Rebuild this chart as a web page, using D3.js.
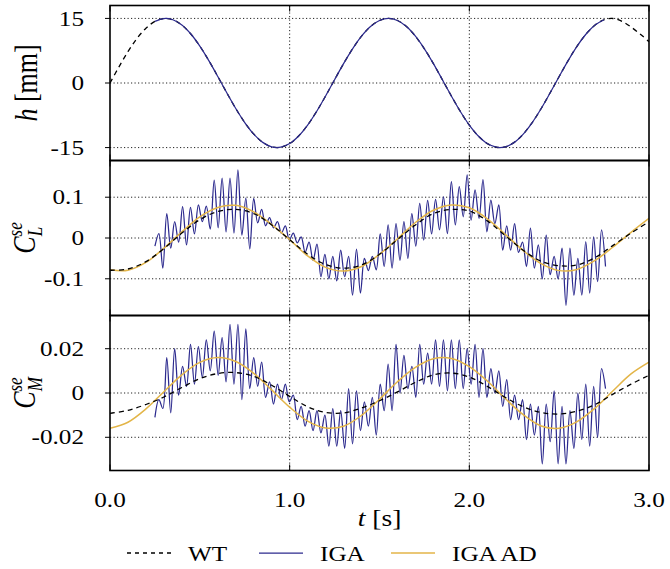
<!DOCTYPE html>
<html>
<head>
<meta charset="utf-8">
<script src="https://cdn.jsdelivr.net/npm/d3@7"></script>
<style>
  body { margin: 0; background: #fff; }
  svg { display: block; font-family: "Liberation Serif", "Times New Roman", serif; }
</style>
</head>
<body>
<svg id="chart" width="670" height="569"></svg>
<script>
// ---- data ----
// h [mm], WT sampled every 0.05 s from 0 to 3.0
const tH = d3.range(61).map(i => i * 0.05)
const hWT = [0, 3.76, 7.28, 10.34, 12.73, 14.31, 14.98, 14.69, 13.47, 11.38, 8.57, 5.21, 1.52, -2.27, -5.92, -9.18,
  -11.86, -13.79, -14.83, -14.92, -14.07, -12.31, -9.77, -6.61, -3.02, 0.76, 4.49, 7.93, 10.87, 13.11, 14.51, 15.0,
  14.51, 13.11, 10.87, 7.93, 4.49, 0.76, -3.02, -6.61, -9.77, -12.31, -14.07, -14.92, -14.83, -13.79, -11.86, -9.18,
  -5.92, -2.27, 1.52, 5.21, 8.57, 11.38, 13.47, 14.69, 14.98, 14.31, 13.0, 11.4, 9.6]
// h [mm], IGA sampled every 0.05 s from 0.25 to 2.75
const tIgaH = d3.range(51).map(i => 0.25 + i * 0.05)
const hIGA = [14.31, 14.98, 14.69, 13.47, 11.38, 8.57, 5.21, 1.52, -2.27, -5.92, -9.18, -11.86, -13.79, -14.83, -14.92,
  -14.07, -12.31, -9.77, -6.61, -3.02, 0.76, 4.49, 7.93, 10.87, 13.11, 14.51, 15.0, 14.51, 13.11, 10.87, 7.93, 4.49,
  0.76, -3.02, -6.61, -9.77, -12.31, -14.07, -14.92, -14.83, -13.79, -11.86, -9.18, -5.92, -2.27, 1.52, 5.21, 8.57,
  11.38, 13.47, 14.69]

// smooth curves sampled every 0.1 s from 0 to 3.0
const tSmooth = d3.range(31).map(i => i / 10)
const clWT = [-0.079, -0.076, -0.058, -0.026, 0.012, 0.045, 0.065, 0.070, 0.060, 0.032, -0.004, -0.040, -0.065, -0.074,
  -0.066, -0.040, -0.004, 0.032, 0.060, 0.070, 0.066, 0.042, 0.006, -0.030, -0.057, -0.068, -0.066, -0.048, -0.018, 0.012, 0.040]
const clAD = [-0.078, -0.079, -0.060, -0.025, 0.015, 0.052, 0.075, 0.080, 0.064, 0.033, -0.004, -0.044, -0.072, -0.081,
  -0.070, -0.040, -0.002, 0.038, 0.068, 0.081, 0.074, 0.047, 0.009, -0.031, -0.063, -0.080, -0.077, -0.055, -0.022, 0.014, 0.048]
const cmWT = [-0.0092, -0.0078, -0.0052, -0.0018, 0.0025, 0.0065, 0.0088, 0.0092, 0.0075, 0.0035, -0.0015, -0.0062, -0.0088,
  -0.0090, -0.0068, -0.0035, 0.0005, 0.0048, 0.0082, 0.0090, 0.0072, 0.0030, -0.0020, -0.0062, -0.0088, -0.0095, -0.0082,
  -0.0052, -0.0005, 0.0040, 0.0080]
const cmAD = [-0.0159, -0.0132, -0.0072, 0.0006, 0.0082, 0.0138, 0.0160, 0.0142, 0.0089, 0.0014, -0.0064, -0.0127, -0.0158,
  -0.0150, -0.0101, -0.0028, 0.0051, 0.0116, 0.0155, 0.0156, 0.0119, 0.0054, -0.0025, -0.0098, -0.0149, -0.0159, -0.0129,
  -0.0068, 0.0010, 0.0086, 0.0139]

// IGA force coefficients, peaks and troughs every 0.022 s from 0.25 s
const tIga = d3.range(115).map(i => 0.25 + i * 0.022)
const clIGA = [-0.020, 0.011, -0.074, 0.060, -0.025, 0.040, -0.010, 0.077, -0.017, 0.075, 0.010, 0.081, 0.040, 0.078,
  0.022, 0.142, 0.025, 0.147, 0.015, 0.147, 0.012, 0.167, 0.007, 0.098, -0.027, 0.097, 0.037, 0.070, 0.030, 0.050,
  0.025, 0.040, 0.012, 0.030, -0.005, 0.012, -0.012, 0.003, -0.035, -0.010, -0.055, -0.015, -0.095, -0.040, -0.100,
  -0.045, -0.105, -0.030, -0.095, -0.045, -0.140, -0.027, -0.135, -0.050, -0.080, -0.045, -0.078, 0.010, -0.070, 0.032,
  -0.074, 0.035, -0.055, 0.040, -0.050, 0.060, -0.020, 0.085, -0.005, 0.092, 0.010, 0.095, 0.020, 0.101, 0.011, 0.138,
  0.032, 0.126, 0.052, 0.155, 0.044, 0.118, 0.048, 0.143, 0.015, 0.093, 0.035, 0.081, -0.030, 0.030, -0.030, 0.035,
  -0.035, -0.010, -0.070, 0.024, -0.074, -0.017, -0.100, 0.007, -0.090, -0.045, -0.100, -0.025, -0.165, -0.025, -0.140,
  -0.050, -0.140, -0.009, -0.135, 0.003, -0.107, 0.020, -0.070]
const cmIGA = [-0.011, -0.003, -0.007, 0.016, -0.009, 0.020, -0.001, 0.012, 0.003, 0.022, 0.004, 0.021, 0.007, 0.024,
  0.010, 0.028, 0.008, 0.025, 0.005, 0.031, 0.004, 0.031, -0.003, 0.029, 0.002, 0.016, 0.003, 0.014, -0.002, 0.005,
  -0.005, 0.004, -0.003, 0.004, -0.004, -0.001, -0.012, -0.006, -0.015, -0.008, -0.017, -0.008, -0.018, -0.010, -0.024,
  -0.007, -0.024, -0.008, -0.025, 0.002, -0.023, 0.001, -0.017, -0.004, -0.015, -0.002, -0.019, 0.004, -0.008, 0.013,
  -0.008, 0.022, 0.000, 0.017, 0.002, 0.012, -0.002, 0.022, 0.004, 0.018, 0.004, 0.024, 0.003, 0.024, 0.001, 0.024,
  0.002, 0.024, 0.002, 0.020, 0.004, 0.022, -0.002, 0.020, -0.002, 0.011, 0.000, 0.010, -0.006, 0.006, -0.012, -0.001,
  -0.012, -0.003, -0.021, -0.005, -0.019, -0.006, -0.032, -0.005, -0.022, 0.001, -0.032, -0.006, -0.032, -0.008, -0.025,
  0.000, -0.021, 0.004, -0.024, 0.003, -0.020, 0.011, 0.002]

const xTicks = [0, 1, 2, 3]
const xTickLabels = ["0.0", "1.0", "2.0", "3.0"]
const hTicks = [15, 0, -15], hTickLabels = ["15", "0", "-15"]
const clTicks = [0.1, 0, -0.1], clTickLabels = ["0.1", "0", "-0.1"]
const cmTicks = [0.02, 0, -0.02], cmTickLabels = ["0.02", "0", "-0.02"]
const legendNames = ["WT", "IGA", "IGA AD"]

// ---- styles ----
const colWT = "#000", colIGA = "#2c2a8e", colAD = "#e3b548"
const styles = {
  WT: { stroke: colWT, width: 1.3, dash: "5,4" },
  IGA: { stroke: colIGA, width: 1.25, dash: null },
  AD: { stroke: colAD, width: 1.5, dash: null }
}

const zip = (ts, vs) => ts.map((t, i) => ({ t: t, v: vs[i] }))

const panels = [
  { domain: [-18, 18], ticks: hTicks, labels: hTickLabels, title: "h",
    series: [["WT", zip(tH, hWT)], ["IGA", zip(tIgaH, hIGA)]] },
  { domain: [-0.19, 0.19], ticks: clTicks, labels: clTickLabels, title: "L",
    series: [["IGA", zip(tIga, clIGA)], ["AD", zip(tSmooth, clAD)], ["WT", zip(tSmooth, clWT)]] },
  { domain: [-0.035, 0.035], ticks: cmTicks, labels: cmTickLabels, title: "M",
    series: [["IGA", zip(tIga, cmIGA)], ["AD", zip(tSmooth, cmAD)], ["WT", zip(tSmooth, cmWT)]] }
]

const svg = d3.select("#chart")
const left = 110, right = 649, top0 = 5.5, panelH = 155
const fontTick = 21
const stretch = "scale(1.2,1)"
const x = d3.scaleLinear().domain([0, 3]).range([left, right])

const defs = svg.append("defs")

panels.forEach((p, i) => {
  const y0 = top0 + i * panelH
  const y = d3.scaleLinear().domain(p.domain).range([y0 + panelH, y0])
  const g = svg.append("g").attr("class", "panel" + i)

  defs.append("clipPath").attr("id", "clip" + i)
    .append("rect").attr("x", left).attr("y", y0).attr("width", right - left).attr("height", panelH)

  // dotted grid
  g.selectAll(".hgrid").data(p.ticks).join("line").attr("class", "hgrid")
    .attr("x1", left).attr("x2", right).attr("y1", d => y(d)).attr("y2", d => y(d))
    .attr("stroke", "#222").attr("stroke-width", 1).attr("stroke-dasharray", "1.2,2.3")
  g.selectAll(".vgrid").data(xTicks.slice(1, 3)).join("line").attr("class", "vgrid")
    .attr("x1", d => x(d)).attr("x2", d => x(d)).attr("y1", y0).attr("y2", y0 + panelH)
    .attr("stroke", "#222").attr("stroke-width", 1).attr("stroke-dasharray", "1.2,2.3")

  // tick marks
  g.selectAll(".xtickT").data(xTicks).join("line").attr("class", "xtickT")
    .attr("x1", d => x(d)).attr("x2", d => x(d)).attr("y1", y0).attr("y2", y0 + 6)
    .attr("stroke", "#000").attr("stroke-width", 1)
  g.selectAll(".xtickB").data(xTicks).join("line").attr("class", "xtickB")
    .attr("x1", d => x(d)).attr("x2", d => x(d)).attr("y1", y0 + panelH - 6).attr("y2", y0 + panelH)
    .attr("stroke", "#000").attr("stroke-width", 1)
  g.selectAll(".ytick").data(p.ticks).join("line").attr("class", "ytick")
    .attr("x1", left - 5).attr("x2", left).attr("y1", d => y(d)).attr("y2", d => y(d))
    .attr("stroke", "#000").attr("stroke-width", 1)

  // tick labels
  g.selectAll(".ylab").data(p.ticks).join("text").attr("class", "ylab")
    .attr("transform", d => `translate(84,${y(d)}) ${stretch}`)
    .attr("dy", "0.34em").attr("text-anchor", "end").attr("font-size", fontTick)
    .text((d, j) => p.labels[j])

  // curves
  const line = d3.line().x(d => x(d.t)).y(d => y(d.v)).curve(d3.curveCatmullRom)
  const cg = g.append("g").attr("clip-path", `url(#clip${i})`)
  p.series.forEach(([key, data]) => {
    const s = styles[key]
    cg.append("path").datum(data).attr("d", line)
      .attr("fill", "none").attr("stroke", s.stroke).attr("stroke-width", s.width)
      .attr("stroke-dasharray", s.dash)
  })

  // frame
  g.append("rect").attr("x", left).attr("y", y0).attr("width", right - left).attr("height", panelH)
    .attr("fill", "none").attr("stroke", "#000").attr("stroke-width", 1.6)

  // y axis title
  const yc = y0 + panelH / 2
  if (p.title === "h") {
    const tt = svg.append("text").attr("transform", `translate(37,${yc}) ${stretch} rotate(-90)`)
      .attr("text-anchor", "middle").attr("font-size", 26)
    tt.append("tspan").attr("font-style", "italic").text("h")
    tt.append("tspan").text(" [mm]")
  } else {
    const tt = svg.append("text").attr("transform", `translate(35,${yc}) ${stretch} rotate(-90)`)
      .attr("text-anchor", "middle").attr("font-size", 26).attr("font-style", "italic")
    tt.append("tspan").text("C")
    tt.append("tspan").attr("font-size", 17).attr("dy", -11).text("se")
    tt.append("tspan").attr("font-size", 17).attr("dx", -14).attr("dy", 17).text(p.title)
  }
})

// x tick labels
svg.selectAll(".xlab").data(xTicks).join("text").attr("class", "xlab")
  .attr("transform", d => `translate(${x(d)},507) ${stretch}`)
  .attr("text-anchor", "middle").attr("font-size", fontTick)
  .text((d, i) => xTickLabels[i])

// x axis title
const xt = svg.append("text").attr("transform", `translate(${(left + right) / 2},526) ${stretch}`)
  .attr("text-anchor", "middle").attr("font-size", 23)
xt.append("tspan").attr("font-style", "italic").text("t")
xt.append("tspan").text(" [s]")

// legend
const legendX = [127, 259, 391]
const legendKeys = ["WT", "IGA", "AD"]
const lg = svg.append("g").attr("class", "legend")
legendKeys.forEach((k, i) => {
  const s = styles[k]
  lg.append("line").attr("x1", legendX[i]).attr("x2", legendX[i] + 44).attr("y1", 553).attr("y2", 553)
    .attr("stroke", s.stroke).attr("stroke-width", s.width).attr("stroke-dasharray", s.dash ? "4,4" : null)
  lg.append("text").attr("transform", `translate(${legendX[i] + 61},561) ${stretch}`)
    .attr("font-size", fontTick).text(legendNames[i])
})
</script>
</body>
</html>
